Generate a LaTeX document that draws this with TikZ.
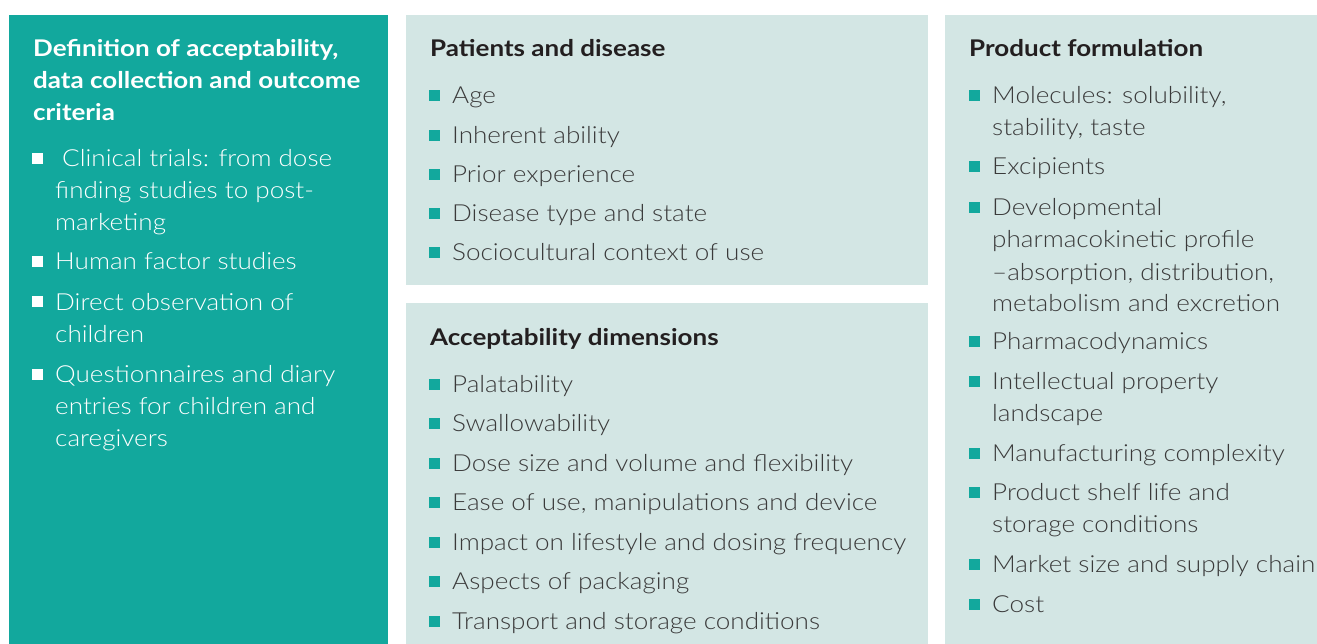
\documentclass[tikz,border=0pt]{standalone}
\usepackage{fontspec}
\setmainfont{Lato}[UprightFont={* Light},BoldFont={* Bold},UprightFeatures={FakeStretch=1.11},BoldFeatures={FakeStretch=1.13}]
\definecolor{tealA}{HTML}{12A89D}
\definecolor{paleA}{HTML}{D3E6E4}
\definecolor{inkA}{HTML}{3A3A3A}
\definecolor{headA}{HTML}{231F20}
\newcommand\bsq[3]{\fill[#3] (#1,#2-13.5) rectangle ++(11,11);}
\begin{document}
\begin{tikzpicture}[x=1pt,y=-1pt,
  txt/.style={anchor=base west,inner sep=0pt,font=\fontsize{23.5}{32}\selectfont,text=inkA},
  wtxt/.style={txt,text=white},
  hd/.style={anchor=base west,inner sep=0pt,font=\fontsize{23}{32}\selectfont\bfseries,text=headA},
  whd/.style={hd,text=white}]
\useasboundingbox (0,0) rectangle (1317,644);
\fill[white] (0,0) rectangle (1317,644);
% panels
\fill[tealA] (9,15) rectangle (388,644);
\fill[paleA] (406,15) rectangle (928,285);
\fill[paleA] (406,303) rectangle (928,644);
\fill[paleA] (945,15) rectangle (1317,644);
% left panel
\node[whd] (lh1) at (33,57) {Definition of acceptability,};
\node[whd] (lh2) at (33,89) {data collection and outcome};
\node[whd] (lh3) at (33,121) {criteria};
\bsq{32}{167}{white}
\node[wtxt] (l1a) at (62,167) {Clinical trials: from dose};
\node[wtxt] (l1b) at (55,199) {finding studies to post-};
\node[wtxt] (l1c) at (55,231) {marketing};
\bsq{32}{270}{white}
\node[wtxt] (l2a) at (55,270) {Human factor studies};
\bsq{32}{310}{white}
\node[wtxt] (l3a) at (55,310) {Direct observation of};
\node[wtxt] (l3b) at (55,342) {children};
\bsq{32}{382}{white}
\node[wtxt] (l4a) at (55,382) {Questionnaires and diary};
\node[wtxt] (l4b) at (55,414) {entries for children and};
\node[wtxt] (l4c) at (55,446) {caregivers};
% middle top
\node[hd] (mh) at (430,57) {Patients and disease};
\foreach \t [count=\i] in {Age,Inherent ability,Prior experience,Disease type and state,Sociocultural context of use}{
  \pgfmathsetmacro\yy{104+(\i-1)*39.25}
  \bsq{429}{\yy}{tealA}
  \node[txt] (m\i) at (452,\yy) {\t};
}
% middle bottom
\node[hd] (bh) at (430,345) {Acceptability dimensions};
\foreach \t [count=\i] in {Palatability,Swallowability,Dose size and volume and flexibility,{Ease of use, manipulations and device},Impact on lifestyle and dosing frequency,Aspects of packaging,Transport and storage conditions}{
  \pgfmathsetmacro\yy{392+(\i-1)*39.5}
  \bsq{429}{\yy}{tealA}
  \node[txt] (b\i) at (452,\yy) {\t};
}
% right
\node[hd] (rh) at (969,57) {Product formulation};
\bsq{969}{104}{tealA}
\node[txt] (r1a) at (992,104) {Molecules: solubility,};
\node[txt] (r1b) at (992,136) {stability, taste};
\bsq{969}{175}{tealA}
\node[txt] (r2a) at (992,175) {Excipients};
\bsq{969}{216}{tealA}
\node[txt] (r3a) at (992,216) {Developmental};
\node[txt] (r3b) at (992,248) {pharmacokinetic profile};
\node[txt] (r3c) at (992,280) {–absorption, distribution,};
\node[txt] (r3d) at (992,312) {metabolism and excretion};
\bsq{969}{349}{tealA}
\node[txt] (r4a) at (992,349) {Pharmacodynamics};
\bsq{969}{389}{tealA}
\node[txt] (r5a) at (992,389) {Intellectual property};
\node[txt] (r5b) at (992,421) {landscape};
\bsq{969}{461}{tealA}
\node[txt] (r6a) at (992,461) {Manufacturing complexity};
\bsq{969}{500}{tealA}
\node[txt] (r7a) at (992,500) {Product shelf life and};
\node[txt] (r7b) at (992,532) {storage conditions};
\bsq{969}{572}{tealA}
\node[txt] (r8a) at (992,572) {Market size and supply chain};
\bsq{969}{612}{tealA}
\node[txt] (r9a) at (992,612) {Cost};
\end{tikzpicture}
\end{document}
